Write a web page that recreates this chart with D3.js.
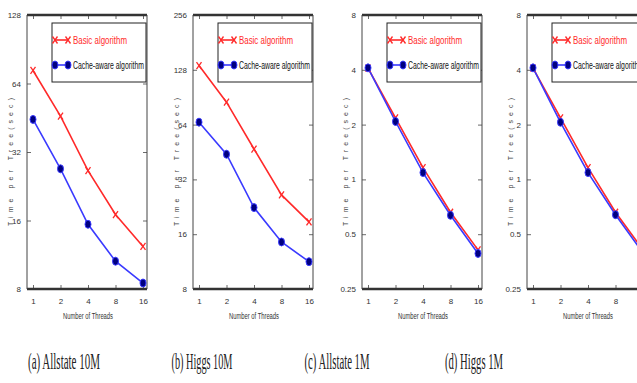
<!DOCTYPE html>
<html><head><meta charset="utf-8">
<script src="https://cdn.jsdelivr.net/npm/d3@7"></script>
<style>body{margin:0;background:#fff}svg{display:block}</style>
</head><body>
<svg id="c" width="637" height="383"></svg>
<script>
const threads = [1, 2, 4, 8, 16];
const basicA = [73, 46, 26.5, 17, 12.3];
const cacheA = [44.5, 27, 15.4, 10.6, 8.5];
const basicB = [135, 85, 47, 26.3, 18.7];
const cacheB = [66, 44, 22.4, 14.5, 11.3];
const basicC = [4.08, 2.18, 1.16, 0.66, 0.41];
const cacheC = [4.1, 2.08, 1.09, 0.635, 0.392];
const basicD = [4.08, 2.18, 1.16, 0.66, 0.41];
const cacheD = [4.1, 2.06, 1.09, 0.64, 0.395];
const yTicksA = [8, 16, 32, 64, 128];
const yTicksB = [8, 16, 32, 64, 128, 256];
const yTicksC = [0.25, 0.5, 1, 2, 4, 8];
const yTicksD = [0.25, 0.5, 1, 2, 4, 8];
const captions = ["(a) Allstate 10M", "(b) Higgs 10M", "(c) Allstate 1M", "(d) Higgs 1M"];
const seriesNames = ["Basic algorithm", "Cache-aware algorithm"];
const xLabel = "Number of Threads";
const yLabel = "Time per Tree(sec)";

const panels = [
  {basic: basicA, cache: cacheA, ticks: yTicksA, left: 27, capX: 64, capW: 72},
  {basic: basicB, cache: cacheB, ticks: yTicksB, left: 193, capX: 202, capW: 61},
  {basic: basicC, cache: cacheC, ticks: yTicksC, left: 362, capX: 337, capW: 65},
  {basic: basicD, cache: cacheD, ticks: yTicksD, left: 527, capX: 474, capW: 58}
];

const svg = d3.select("#c");
const W = 120, pTop = 15, pBottom = 289;
const red = "#ff2a2a", blue = "#3a3aff", navy = "#000080";

function fmt(v){ return String(v); }

panels.forEach((p, i) => {
  const L = p.left, R = L + W;
  const x = d3.scaleLog().base(2).domain([1, 16]).range([L + 6, L + 116]);
  const y = d3.scaleLog().base(2).domain([p.ticks[0], p.ticks[p.ticks.length - 1]]).range([pBottom, pTop]);
  const g = svg.append("g");

  const ax = g.append("g").attr("transform", `translate(0,${pBottom})`)
    .call(d3.axisBottom(x).tickValues(threads).tickFormat(fmt).tickSize(-4).tickPadding(9));
  ax.select(".domain").remove();
  g.append("g").attr("transform", `translate(0,${pTop})`)
    .call(d3.axisTop(x).tickValues(threads).tickFormat("").tickSize(-4))
    .select(".domain").remove();
  const ay = g.append("g").attr("transform", `translate(${L},0)`)
    .call(d3.axisLeft(y).tickValues(p.ticks).tickFormat(fmt).tickSize(-4).tickPadding(6));
  ay.select(".domain").remove();
  g.append("g").attr("transform", `translate(${R},0)`)
    .call(d3.axisRight(y).tickValues(p.ticks).tickFormat("").tickSize(-4))
    .select(".domain").remove();
  g.selectAll(".tick line").attr("stroke", "#444").attr("stroke-width", 0.8);
  g.selectAll(".tick text").attr("fill", "#333").style("font-family", "Liberation Sans, Arial, sans-serif").style("font-size", "8px");

  g.append("line").attr("x1", L).attr("x2", R).attr("y1", pTop).attr("y2", pTop).attr("stroke", "#333").attr("stroke-width", 2.4);
  g.append("line").attr("x1", L).attr("x2", R).attr("y1", pBottom).attr("y2", pBottom).attr("stroke", "#333").attr("stroke-width", 2.4);
  g.append("line").attr("x1", L).attr("x2", L).attr("y1", pTop).attr("y2", pBottom).attr("stroke", "#444").attr("stroke-width", 1);
  g.append("line").attr("x1", R).attr("x2", R).attr("y1", pTop).attr("y2", pBottom).attr("stroke", "#444").attr("stroke-width", 1);

  const line = d3.line().x((d, j) => x(threads[j])).y(d => y(d));
  g.append("path").datum(p.basic).attr("d", line).attr("fill", "none").attr("stroke", red).attr("stroke-width", 1.6);
  g.append("path").datum(p.cache).attr("d", line).attr("fill", "none").attr("stroke", blue).attr("stroke-width", 1.6);

  function xMark(sel, cx, cy){
    sel.append("path").attr("d", `M${cx-2.5},${cy-3.5}L${cx+2.5},${cy+3.5}M${cx-2.5},${cy+3.5}L${cx+2.5},${cy-3.5}`)
      .attr("stroke", red).attr("stroke-width", 1.3).attr("fill", "none");
  }
  function oMark(sel, cx, cy){
    sel.append("ellipse").attr("cx", cx).attr("cy", cy).attr("rx", 3).attr("ry", 4)
      .attr("fill", navy).attr("stroke", blue).attr("stroke-width", 1);
  }
  p.basic.forEach((v, j) => xMark(g, x(threads[j]), y(v)));
  p.cache.forEach((v, j) => oMark(g, x(threads[j]), y(v)));

  const lx = L + 25, ly = 23;
  g.append("rect").attr("x", lx).attr("y", ly).attr("width", 94).attr("height", 59)
    .attr("fill", "#fff").attr("stroke", "#222").attr("stroke-width", 1);
  [[40, red, xMark], [65, blue, oMark]].forEach(([yy, col, mk], k) => {
    g.append("line").attr("x1", lx + 3).attr("x2", lx + 16).attr("y1", yy).attr("y2", yy).attr("stroke", col).attr("stroke-width", 1.6);
    mk(g, lx + 3, yy); mk(g, lx + 16, yy);
    g.append("text").attr("x", lx + 21).attr("y", yy + 3.5).text(seriesNames[k])
      .attr("fill", k === 0 ? red : "#111")
      .attr("textLength", k === 0 ? 54 : 71).attr("lengthAdjust", "spacingAndGlyphs")
      .style("font-family", "Liberation Sans, Arial, sans-serif").style("font-size", "10.5px");
  });

  g.append("text").attr("x", L + 61).attr("y", 319).attr("text-anchor", "middle").text(xLabel)
    .attr("textLength", 50).attr("lengthAdjust", "spacingAndGlyphs")
    .attr("fill", "#333").style("font-family", "Liberation Sans, Arial, sans-serif").style("font-size", "8.5px");
  g.append("text").attr("transform", `translate(${L - 14},162) rotate(-90)`).attr("text-anchor", "middle").text(yLabel)
    .attr("textLength", 128).attr("lengthAdjust", "spacing")
    .attr("fill", "#444").style("font-family", "Liberation Sans, Arial, sans-serif").style("font-size", "7px");

  svg.append("text").attr("x", p.capX).attr("y", 369).attr("text-anchor", "middle").text(captions[i])
    .attr("textLength", p.capW).attr("lengthAdjust", "spacingAndGlyphs")
    .attr("fill", "#222").style("font-family", "Liberation Serif, DejaVu Serif, serif").style("font-size", "24px");
});
</script>
</body></html>
